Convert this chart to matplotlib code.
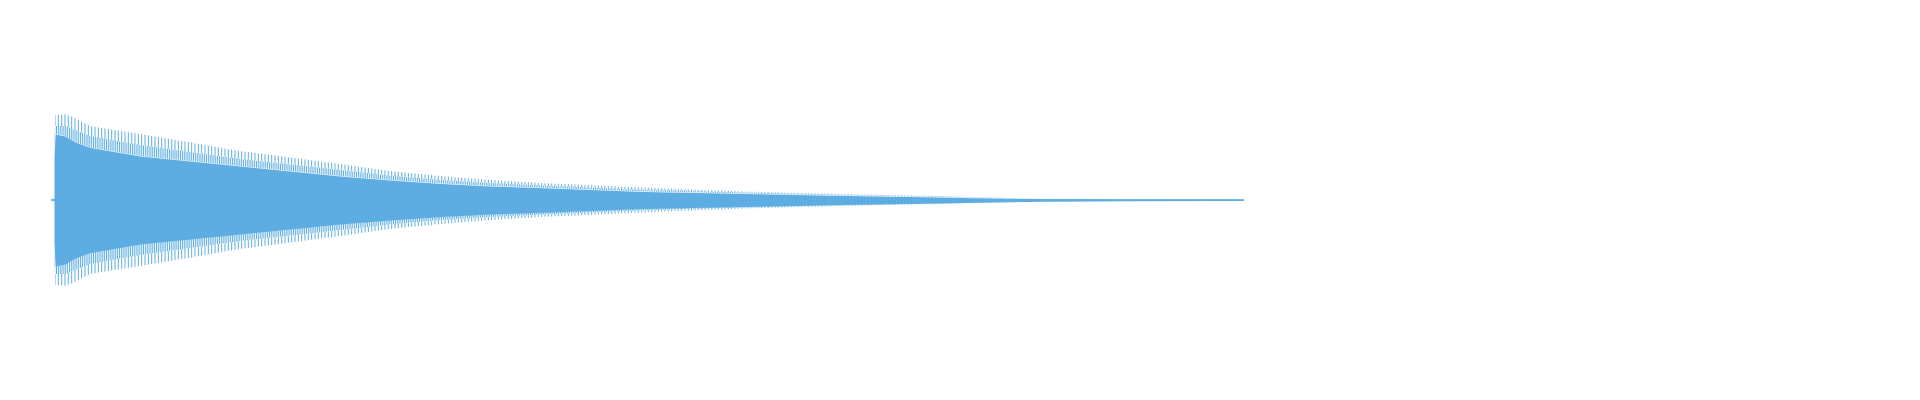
import numpy as np
import matplotlib
matplotlib.use('Agg')
import matplotlib.pyplot as plt

# envelope of the decaying waveform (time in s, amplitude -1..1)
t_env     = [0.0033, 0.0045, 0.0154, 0.0264, 0.0429, 0.0979, 0.1529, 0.2079, 0.2629,
             0.3179, 0.3729, 0.4279, 0.4829, 0.5380, 0.6480, 0.7580, 0.8680, 0.9780,
             1.0143, 1.0880, 1.1980, 1.3113]
body_amp  = [0.21, 0.33, 0.32, 0.29, 0.263, 0.22, 0.195, 0.17, 0.145,
             0.12, 0.10, 0.083, 0.07, 0.062, 0.043, 0.033, 0.023, 0.015,
             0.0115, 0.0065, 0.0035, 0.0025]
dense_amp = [0.21, 0.37, 0.37, 0.35, 0.32, 0.275, 0.24, 0.205, 0.178,
             0.15, 0.122, 0.10, 0.085, 0.073, 0.052, 0.038, 0.026, 0.017,
             0.013, 0.007, 0.0035, 0.0025]
peak_amp  = [0.21, 0.425, 0.43, 0.41, 0.37, 0.33, 0.288, 0.245, 0.213,
             0.18, 0.145, 0.12, 0.10, 0.085, 0.063, 0.043, 0.03, 0.02,
             0.015, 0.008, 0.004, 0.0025]
t_silence = [0.0, 0.0033]   # flat lead-in before the sound starts
duration  = 2.0

BLUE = '#5dade2'

t = np.array(t_env)
body = np.array(body_amp)
dense = np.array(dense_amp)
peak = np.array(peak_amp)

fig = plt.figure(figsize=(19.2, 4), dpi=100)
ax = fig.add_axes([51 / 1920, 0, 1818 / 1920, 1])

ax.plot(t_silence, [0, 0], color=BLUE, lw=1.2)
ax.plot([t[0], t[-1]], [0, 0], color=BLUE, lw=1.2)
ax.fill_between(t, -body, body, color=BLUE, lw=0)

# peaks above/below the solid body: dense near the body, sparse at the tips
plt.rcParams['hatch.linewidth'] = 0.7
for lo, hi, h in [(body, dense, '|||||||||'), (dense, peak, '|||||')]:
    ax.fill_between(t, lo, hi, facecolor='none', edgecolor=BLUE, hatch=h, lw=0)
    ax.fill_between(t, -hi, -lo, facecolor='none', edgecolor=BLUE, hatch=h, lw=0)

ax.set_xlim(0, duration)
ax.set_ylim(-1, 1)
ax.axis('off')

fig.savefig('out.png', dpi=100)
